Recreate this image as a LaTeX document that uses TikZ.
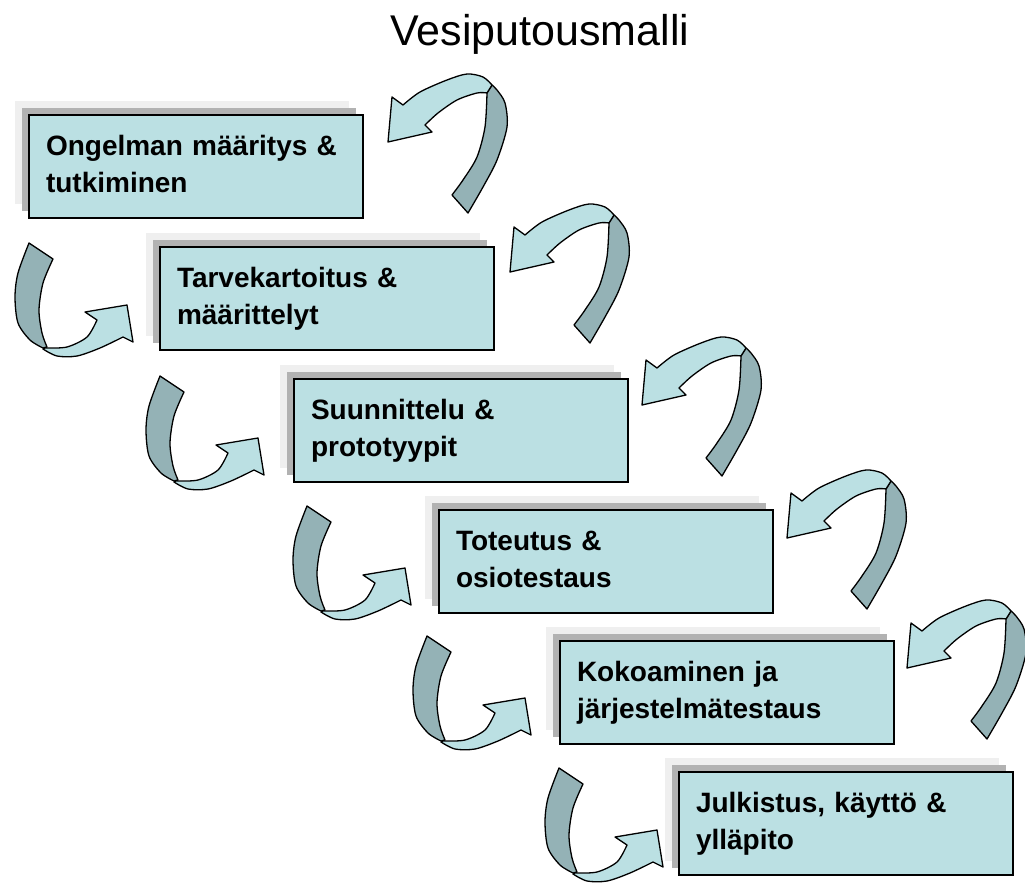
\documentclass[tikz,border=0pt]{standalone}
\usepackage{fontspec}
\setmainfont{Liberation Sans}
\usepackage{tikz}
\usetikzlibrary{shadows}

\definecolor{boxfill}{HTML}{BBE0E3}
\definecolor{ribbondark}{HTML}{94B2B6}
\definecolor{shdark}{HTML}{B2B2B2}
\definecolor{shlight}{HTML}{EFEFEF}

\tikzstyle{stage} = [rectangle, anchor=north west, draw=black, line width=2pt, fill=boxfill,
                     minimum width=334pt, minimum height=103pt, inner xsep=17pt, inner ysep=0pt,
                     text width=300pt, align=left,
                     font=\bfseries\fontsize{28}{37}\selectfont,
                     execute at begin node=\strut, execute at end node=\strut,
                     general shadow={fill=shlight, draw=none, shadow xshift=-14pt, shadow yshift=14pt},
                     general shadow={fill=shdark, draw=none, shadow xshift=-7pt, shadow yshift=7pt}]
\tikzstyle{dark} = [fill=ribbondark, draw=black, line width=1.3pt, line join=round]
\tikzstyle{light} = [fill=boxfill, draw=black, line width=1.3pt, line join=round]

% ribbon arrows, origin = tip of the head
\tikzset{
  backarrow/.pic={
    \path[dark] plot[smooth] coordinates {(99,-49) (97,-15) (89,15) (75,38) (64,53)}
      -- plot[smooth] coordinates {(80,71) (95,45) (109,18) (119,-15) (117,-39) (109,-52) (104,-57)} -- cycle;
    \path[light] plot[smooth] coordinates {(15,-37) (32,-50) (59,-62) (79,-68) (95,-65) (104,-57)}
      -- plot[smooth] coordinates {(99,-49) (89,-49) (69,-42) (50,-29) (37,-17)}
      -- (44,-10) -- (0,0) -- (4,-45) -- cycle;
  },
  nextarrow/.pic={
    \path[dark] plot[smooth] coordinates {(-98,-62) (-109,-32) (-112,-8) (-109,18) (-97,35) (-84,43)}
      -- plot[smooth] coordinates {(-80,42) (-85,28) (-88,5) (-84,-22) (-74,-46)} -- cycle;
    \path[light] plot[smooth] coordinates {(-30,15) (-40,32) (-60,42) (-82,43)}
      -- plot[smooth] coordinates {(-84,44) (-70,51) (-50,51) (-27,43) (-4,32)}
      -- (6,37) -- (0,0) -- (-42,7) -- cycle;
  }
}

\begin{document}
\begin{tikzpicture}[x=1pt, y=-1pt]
  \fill[white] (0,0) rectangle (1025,886);
  \useasboundingbox (0,0) rectangle (1025,886);

  \node (title) [anchor=base, font=\fontsize{43}{50}\selectfont] at (540,45) {Vesiputousmalli};

  \node (s1) [stage] at (28,114) {Ongelman määritys \&\\tutkiminen};
  \node (s2) [stage] at (159,246) {Tarvekartoitus \&\\määrittelyt};
  \node (s3) [stage] at (293,378) {Suunnittelu \&\\prototyypit};
  \node (s4) [stage] at (438,509) {Toteutus \&\\osiotestaus};
  \node (s5) [stage] at (559,640) {Kokoaminen ja\\järjestelmätestaus};
  \node (s6) [stage] at (678,771) {Julkistus, käyttö \&\\ylläpito};

  % going back up on the right
  \pic at (388,142) {backarrow};
  \pic at (510,272) {backarrow};
  \pic at (642,405) {backarrow};
  \pic at (787,538) {backarrow};
  \pic at (907,668) {backarrow};

  % going on down on the left
  \pic at (127,305) {nextarrow};
  \pic at (258,438) {nextarrow};
  \pic at (405,568) {nextarrow};
  \pic at (525,698) {nextarrow};
  \pic at (657,830) {nextarrow};
\end{tikzpicture}
\end{document}
